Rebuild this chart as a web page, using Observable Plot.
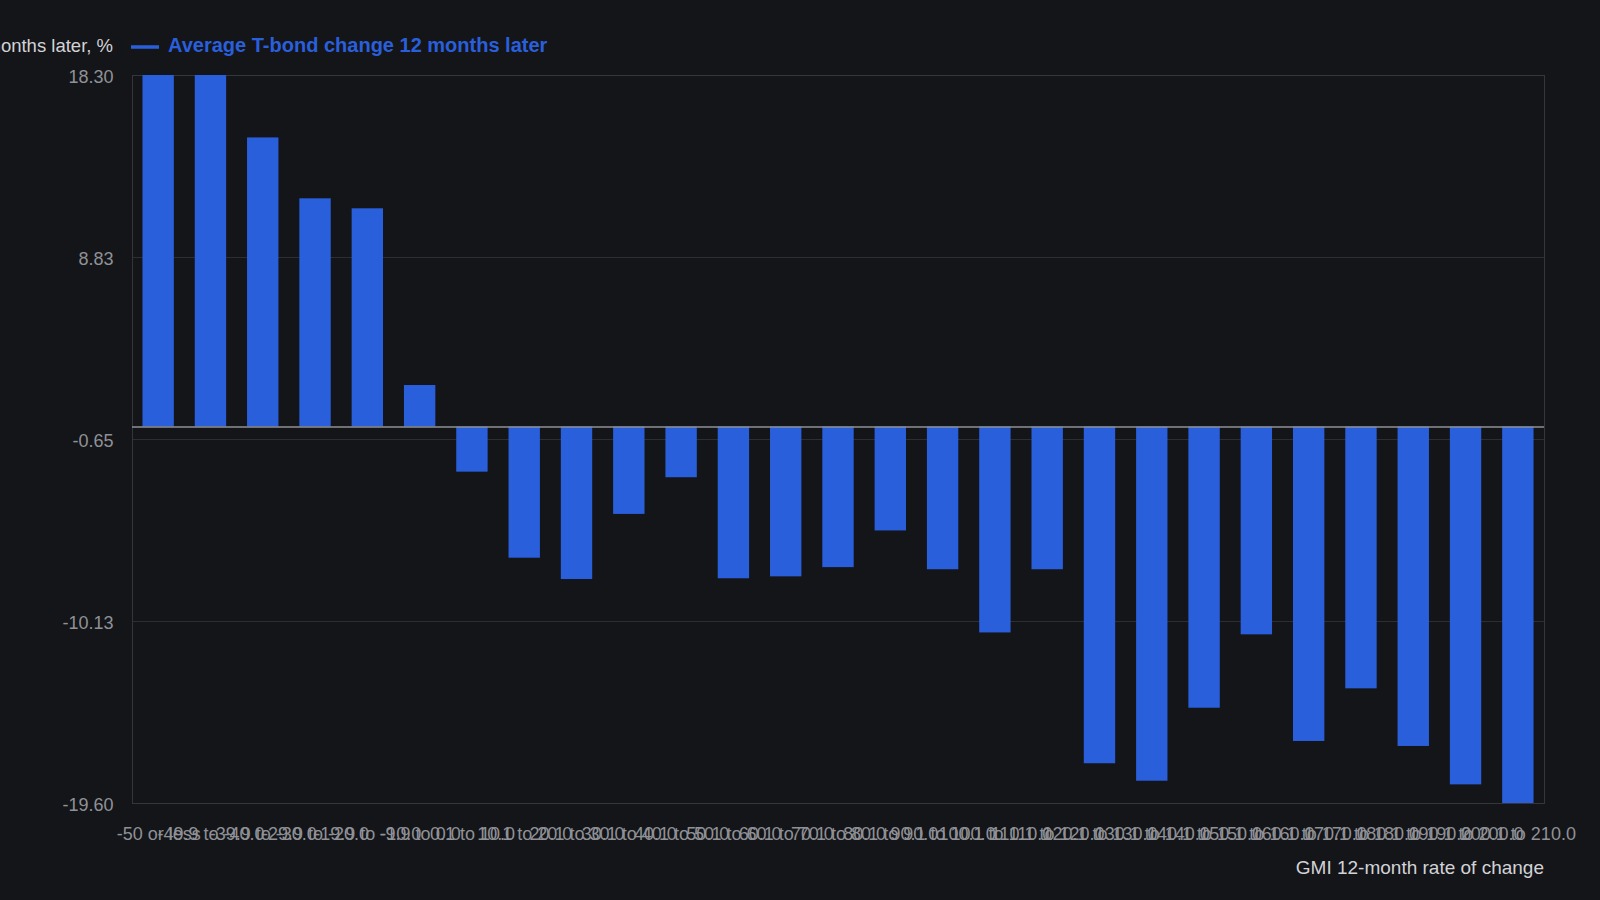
<!DOCTYPE html>
<html>
<head>
<meta charset="utf-8">
<script src="https://cdn.jsdelivr.net/npm/d3@7"></script>
<script src="https://cdn.jsdelivr.net/npm/@observablehq/plot@0.6"></script>
<style>
  html, body { margin: 0; padding: 0; background: #141519; }
  #chart { width: 1600px; height: 900px; }
</style>
</head>
<body>
<div id="chart"></div>
<script>
const categories = [
  "-50 or less", "-49.9 to -40.0", "-39.9 to -30.0", "-29.9 to -20.0", "-19.9 to -10.0",
  "-9.9 to 0.0", "0.1 to 10.0", "10.1 to 20.0", "20.1 to 30.0", "30.1 to 40.0",
  "40.1 to 50.0", "50.1 to 60.0", "60.1 to 70.0", "70.1 to 80.0", "80.1 to 90.0",
  "90.1 to 100.0", "100.1 to 110.0", "110.1 to 120.0", "120.1 to 130.0", "130.1 to 140.0",
  "140.1 to 150.0", "150.1 to 160.0", "160.1 to 170.0", "170.1 to 180.0", "180.1 to 190.0",
  "190.1 to 200.0", "200.1 to 210.0"
];
const values = [
  18.3, 18.3, 15.05, 11.88, 11.36,
  2.16, -2.35, -6.83, -7.94, -4.55,
  -2.64, -7.90, -7.80, -7.32, -5.41,
  -7.43, -10.72, -7.43, -17.53, -18.44,
  -14.64, -10.82, -16.37, -13.63, -16.63,
  -18.63, -19.6
];
const yTickValues = [18.3, 8.825, -0.65, -10.125, -19.6];
const yTickLabels = ["18.30", "8.83", "-0.65", "-10.13", "-19.60"];
const seriesName = "Average T-bond change 12 months later";
const yAxisTitle = "Average T-bond change 12 months later, %";
const xAxisTitle = "GMI 12-month rate of change";

const data = categories.map((c, i) => ({category: c, value: values[i]}));

const W = 1600, H = 900;
const mTop = 75, mBottom = 97, mLeft = 132, mRight = 56;
const barColor = "#2a5fdc";

const plot = Plot.plot({
  width: W,
  height: H,
  marginTop: mTop,
  marginBottom: mBottom,
  marginLeft: mLeft,
  marginRight: mRight,
  style: {
    background: "#141519",
    fontFamily: "'Liberation Sans', Arial, sans-serif",
    overflow: "visible"
  },
  x: {domain: categories, paddingInner: 0.4, paddingOuter: 0.2, round: false, label: null},
  y: {domain: [-19.6, 18.3], label: null},
  marks: [
    Plot.gridY(yTickValues, {stroke: "#2c2e33", strokeOpacity: 1, strokeWidth: 1}),
    Plot.frame({stroke: "#34363b", strokeWidth: 1}),
    Plot.barY(data, {x: "category", y: "value", fill: barColor, inset: 0}),
    Plot.ruleY([0], {stroke: "#8e9094", strokeWidth: 1.6}),
    Plot.axisY(yTickValues, {
      tickSize: 0, tickPadding: 19, dy: 1.5,
      tickFormat: (d) => yTickLabels[yTickValues.indexOf(d)],
      fontSize: 18, fill: "#8f9196", label: null
    }),
    Plot.axisX({
      tickSize: 0, tickPadding: 24,
      fontSize: 18, fill: "#8f9196", label: null
    })
  ]
});

document.getElementById("chart").appendChild(plot);

const svg = d3.select(plot);
const font = "'Liberation Sans', Arial, sans-serif";

// Y axis title (top-left, right-aligned, runs off left edge)
svg.append("text")
  .attr("x", 113).attr("y", 47)
  .attr("text-anchor", "end").attr("dominant-baseline", "middle")
  .attr("font-family", font).attr("font-size", 18.5)
  .attr("fill", "#d2d3d6")
  .text(yAxisTitle);

// Legend
svg.append("line")
  .attr("x1", 131).attr("x2", 159).attr("y1", 47).attr("y2", 47)
  .attr("stroke", barColor).attr("stroke-width", 3.5);
svg.append("text")
  .attr("x", 168).attr("y", 47)
  .attr("text-anchor", "start").attr("dominant-baseline", "middle")
  .attr("font-family", font).attr("font-size", 20).attr("font-weight", "bold")
  .attr("fill", barColor)
  .text(seriesName);

// X axis title
svg.append("text")
  .attr("x", W - mRight).attr("y", 869)
  .attr("text-anchor", "end").attr("dominant-baseline", "middle")
  .attr("font-family", font).attr("font-size", 19)
  .attr("fill", "#d2d3d6")
  .text(xAxisTitle);
</script>
</body>
</html>
